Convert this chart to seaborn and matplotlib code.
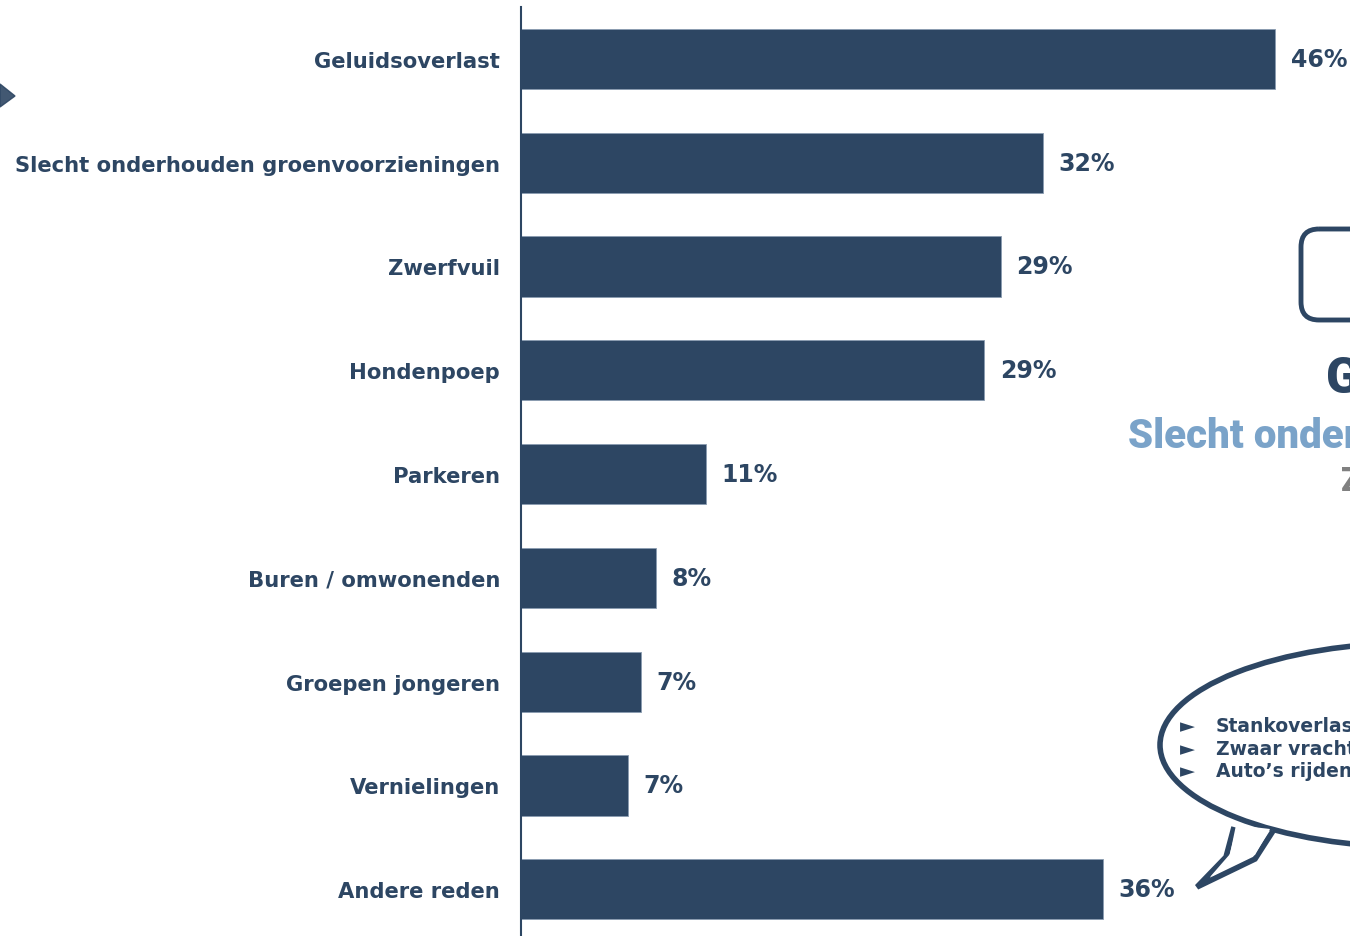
import matplotlib
matplotlib.use("Agg")
import matplotlib.pyplot as plt
import seaborn as sns
import pandas as pd
from matplotlib.patches import Ellipse, FancyBboxPatch, Polygon

categories = ["Geluidsoverlast", "Slecht onderhouden groenvoorzieningen", "Zwerfvuil",
              "Hondenpoep", "Parkeren", "Buren / omwonenden", "Groepen jongeren",
              "Vernielingen", "Andere reden"]
values = [46.4, 32.1, 29.5, 28.5, 11.4, 8.3, 7.4, 6.6, 35.8]
labels = ["46%", "32%", "29%", "29%", "11%", "8%", "7%", "7%", "36%"]
bubble_items = ["Stankoverlast", "Zwaar vrachtverkeer", "Auto\u2019s rijden te hard"]

NAVY = "#2d4663"
LIGHT = "#7aa3c9"

sns.set_theme(style="white")
plt.rcParams['font.family'] = ['DejaVu Sans']

fig = plt.figure(figsize=(13.5, 9.37), dpi=100)
ax = fig.add_axes([521/1350, 0, 1 - 521/1350, 1 - 8/937])

df = pd.DataFrame({"cat": categories, "val": values})
sns.barplot(data=df, x="val", y="cat", orient="h", color=NAVY, saturation=1,
            width=0.58, edgecolor="#8a9bb0", linewidth=0.6, ax=ax)
ax.set_xlim(0, 829/16.26)
ax.set_ylim(8.45, -0.5)
ax.bar_label(ax.containers[0], labels=labels, padding=11, color=NAVY,
             fontsize=17, fontweight="bold")
ax.set_xlabel("")
ax.set_ylabel("")
ax.set_xticks([])
for s in ["top", "right", "bottom"]:
    ax.spines[s].set_visible(False)
ax.spines["left"].set_color(NAVY)
ax.spines["left"].set_linewidth(1.5)
ax.tick_params(axis="y", length=0, pad=15)
for t in ax.get_yticklabels():
    t.set_fontweight("bold")
    t.set_color(NAVY)
    t.set_fontsize(15.2)

# decorative overlay (slide fragments)
ov = fig.add_axes([0, 0, 1, 1], zorder=5)
ov.set_xlim(0, 1350)
ov.set_ylim(937, 0)
ov.axis("off")
ov.patch.set_alpha(0)

ov.add_patch(Polygon([[0, 85], [15, 97], [0, 108]], closed=True, color=NAVY, alpha=0.9))
ov.add_patch(FancyBboxPatch((1301, 230), 120, 91, boxstyle="round,pad=0,rounding_size=18",
                            fill=False, edgecolor=NAVY, linewidth=3.5))
ov.text(1326, 380, "Geluidsoverlast", color=NAVY, fontsize=36, fontweight="black",
        family=["Roboto", "DejaVu Sans"], va="center", ha="left")
ov.text(1128, 437, "Slecht onderhouden groenvoorzieningen", color=LIGHT, fontsize=29,
        fontweight="black", family=["Roboto", "DejaVu Sans"], va="center", ha="left")
ov.text(1341, 482, "Zwerfvuil", color="#808080", fontsize=24, fontweight="black",
        family=["Roboto", "DejaVu Sans"], va="center", ha="left")

ov.add_patch(Ellipse((1420, 746), 520, 205, fill=True, facecolor="white",
                     edgecolor=NAVY, linewidth=4, zorder=1))
ov.add_patch(Polygon([[1234, 828], [1226, 858], [1197, 888], [1255, 860], [1273, 832]],
                     closed=False, facecolor="white", edgecolor=NAVY, linewidth=4, zorder=2))
ov.add_patch(Polygon([[1236, 826], [1230, 855], [1210, 878], [1255, 856], [1270, 830]],
                     closed=True, facecolor="white", edgecolor="none", zorder=3))
for i, item in enumerate(bubble_items):
    y = 727 + i * 22.5
    ov.text(1180, y, "\u25ba", color=NAVY, fontsize=14, va="center", ha="left", zorder=4)
    ov.text(1216, y, item, color=NAVY, fontsize=13.5, fontweight="bold", va="center",
            ha="left", zorder=4)

fig.savefig("out.png", dpi=100)
